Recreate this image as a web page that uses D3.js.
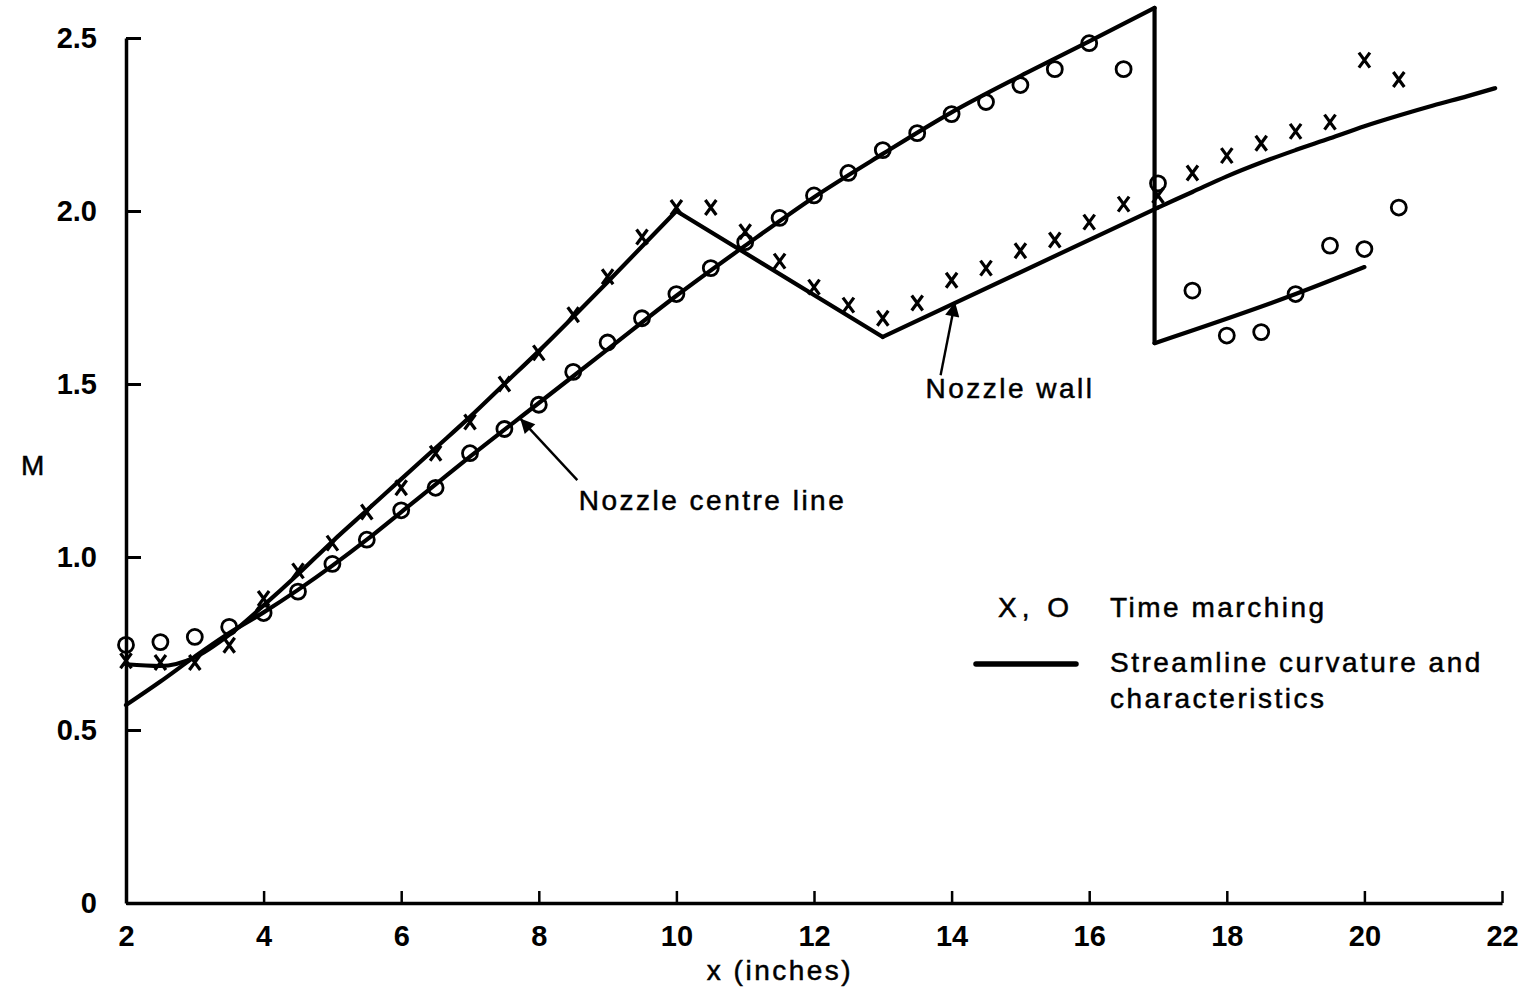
<!DOCTYPE html>
<html>
<head>
<meta charset="utf-8">
<script src="https://cdn.jsdelivr.net/npm/d3@7"></script>
<style>
  body { margin: 0; background: #fff; }
  svg { display: block; }
  .lbl { font-family: "Liberation Sans", Arial, sans-serif; font-size: 28px; letter-spacing: 2.5px; fill: #000; stroke: #000; stroke-width: 0.5px; }
  .tick text { font-family: "Liberation Sans", Arial, sans-serif; font-size: 29px; font-weight: bold; fill: #000; }
</style>
</head>
<body>
<svg id="chart" width="1531" height="993"></svg>
<script>
// time marching results, x in inches
const markX = [2, 2.5, 3, 3.5, 4, 4.5, 5, 5.5, 6, 6.5, 7, 7.5, 8, 8.5, 9, 9.5, 10, 10.5, 11, 11.5,
               12, 12.5, 13, 13.5, 14, 14.5, 15, 15.5, 16, 16.5, 17, 17.5, 18, 18.5, 19, 19.5, 20, 20.5];
// crosses: nozzle wall
const wallMarks = [0.70, 0.695, 0.695, 0.745, 0.88, 0.96, 1.04, 1.13, 1.20, 1.30, 1.39, 1.50, 1.59, 1.70, 1.81, 1.925, 2.01, 2.01, 1.94, 1.855,
                   1.78, 1.728, 1.69, 1.734, 1.80, 1.835, 1.885, 1.916, 1.968, 2.02, 2.045, 2.11, 2.16, 2.196, 2.23, 2.257, 2.436, 2.38];
// circles: nozzle centre line
const centreMarks = [0.746, 0.754, 0.769, 0.798, 0.838, 0.90, 0.98, 1.05, 1.135, 1.20, 1.30, 1.37, 1.44, 1.535, 1.62, 1.69, 1.76, 1.835, 1.91, 1.98,
                     2.045, 2.11, 2.176, 2.225, 2.28, 2.315, 2.364, 2.41, 2.485, 2.41, 2.08, 1.77, 1.64, 1.65, 1.76, 1.90, 1.89, 2.01];

// streamline curvature and characteristics
const wallLineX = [2, 2.5, 3, 3.5, 4, 4.5, 5, 5.5, 6, 6.5, 7, 7.5, 8, 9, 10, 13, 17, 17.5, 18, 18.5, 19, 19.5, 20, 20.5, 21, 21.5, 21.9];
const wallLineM = [0.69, 0.685, 0.71, 0.775, 0.86, 0.95, 1.045, 1.135, 1.225, 1.315, 1.405, 1.50, 1.595, 1.795, 2.0, 1.636, 2.01, 2.055, 2.10, 2.14, 2.176, 2.21, 2.245, 2.276, 2.305, 2.332, 2.355];
const wallKinks = [10, 13, 17];

const centreLineX = [2, 2.5, 3, 3.5, 4, 4.5, 5, 5.5, 6, 6.5, 7, 8, 9, 10, 11, 12, 13, 14, 15, 16, 16.95, 16.95, 19, 20];
const centreLineM = [0.572, 0.64, 0.712, 0.78, 0.84, 0.905, 0.975, 1.05, 1.13, 1.21, 1.29, 1.445, 1.60, 1.755, 1.90, 2.04, 2.165, 2.285, 2.39, 2.49, 2.587, 1.618, 1.76, 1.838];
const centreKinks = [16.95];

const xTicks = [2, 4, 6, 8, 10, 12, 14, 16, 18, 20, 22];
const yTicks = [0, 0.5, 1.0, 1.5, 2.0, 2.5];
const yTickLabels = ["0", "0.5", "1.0", "1.5", "2.0", "2.5"];

const svg = d3.select("#chart");

const x = d3.scaleLinear().domain([2, 22]).range([126, 1502]);
const y = d3.scaleLinear().domain([0, 2.5]).range([903, 38]);

// axes
svg.append("g")
    .attr("transform", `translate(${x(2)},0)`)
    .call(d3.axisLeft(y).tickValues(yTicks).tickSize(-15).tickSizeOuter(0).tickPadding(29)
        .tickFormat((d, i) => yTickLabels[i]))
    .call(g => g.select(".domain").attr("stroke-width", 3.5))
    .call(g => g.selectAll(".tick line").attr("stroke-width", 3));

svg.append("g")
    .attr("transform", `translate(0,${y(0)})`)
    .call(d3.axisBottom(x).tickValues(xTicks).tickSize(-12).tickSizeOuter(0))
    .call(g => g.select(".domain").attr("stroke-width", 3.5))
    .call(g => g.selectAll(".tick line").attr("stroke-width", 2.5))
    .call(g => g.selectAll(".tick text").attr("dy", null).attr("y", 43));

// split a line at its kinks so corners stay sharp
function segments(xs, ms, kinks) {
    const segs = [];
    let cur = [];
    xs.forEach((v, i) => {
        cur.push([v, ms[i]]);
        if (kinks.includes(v) && cur.length > 1 && i < xs.length - 1) {
            segs.push(cur);
            cur = [[v, ms[i]]];
        }
    });
    segs.push(cur);
    return segs;
}

const line = d3.line()
    .x(d => x(d[0]))
    .y(d => y(d[1]))
    .curve(d3.curveMonotoneX);

const lines = svg.append("g")
    .attr("fill", "none")
    .attr("stroke", "#000")
    .attr("stroke-width", 4.2)
    .attr("stroke-linejoin", "round")
    .attr("stroke-linecap", "round");

segments(wallLineX, wallLineM, wallKinks).concat(segments(centreLineX, centreLineM, centreKinks))
    .forEach(s => lines.append("path").attr("d", line(s)));

// markers
svg.append("g")
    .selectAll("circle")
    .data(markX)
    .enter()
    .append("circle")
    .attr("cx", d => x(d))
    .attr("cy", (d, i) => y(centreMarks[i]))
    .attr("r", 7.5)
    .attr("fill", "none")
    .attr("stroke", "#000")
    .attr("stroke-width", 2.8);

svg.append("g")
    .selectAll("path")
    .data(markX)
    .enter()
    .append("path")
    .attr("transform", (d, i) => `translate(${x(d)},${y(wallMarks[i])})`)
    .attr("d", "M-5.5,-7.5L5.5,7.5M5.5,-7.5L-5.5,7.5")
    .attr("fill", "none")
    .attr("stroke", "#000")
    .attr("stroke-width", 3.2);

// annotations
svg.append("defs").append("marker")
    .attr("id", "head")
    .attr("viewBox", "0 0 10 10")
    .attr("refX", 10).attr("refY", 5)
    .attr("markerWidth", 8).attr("markerHeight", 6)
    .attr("markerUnits", "strokeWidth")
    .attr("orient", "auto")
    .append("path")
    .attr("d", "M0,0L10,5L0,10z")
    .attr("fill", "#000");

const arrows = [
    { from: [8.56, 1.222], to: [7.73, 1.40] },
    { from: [13.84, 1.525], to: [14.05, 1.737] }
];
svg.append("g")
    .selectAll("line")
    .data(arrows)
    .enter()
    .append("line")
    .attr("x1", d => x(d.from[0])).attr("y1", d => y(d.from[1]))
    .attr("x2", d => x(d.to[0])).attr("y2", d => y(d.to[1]))
    .attr("stroke", "#000")
    .attr("stroke-width", 2.4)
    .attr("marker-end", "url(#head)");

svg.append("text").attr("class", "lbl")
    .attr("x", x(8.58)).attr("y", y(1.135))
    .text("Nozzle centre line");
svg.append("text").attr("class", "lbl")
    .attr("x", x(13.62)).attr("y", y(1.46))
    .text("Nozzle wall");

// legend
svg.append("text").attr("class", "lbl")
    .attr("x", 998).attr("y", 617)
    .style("letter-spacing", "5px")
    .text("X, O");
svg.append("text").attr("class", "lbl")
    .attr("x", 1110).attr("y", 617)
    .text("Time marching");
svg.append("line")
    .attr("x1", 976).attr("x2", 1076)
    .attr("y1", 664).attr("y2", 664)
    .attr("stroke", "#000")
    .attr("stroke-width", 5.5)
    .attr("stroke-linecap", "round");
svg.append("text").attr("class", "lbl")
    .attr("x", 1110).attr("y", 672)
    .text("Streamline curvature and");
svg.append("text").attr("class", "lbl")
    .attr("x", 1110).attr("y", 708)
    .text("characteristics");

// axis titles
svg.append("text").attr("class", "lbl")
    .attr("x", 780).attr("y", 980)
    .attr("text-anchor", "middle")
    .text("x (inches)");
svg.append("text").attr("class", "lbl")
    .attr("x", 21).attr("y", 475)
    .text("M");
</script>
</body>
</html>
